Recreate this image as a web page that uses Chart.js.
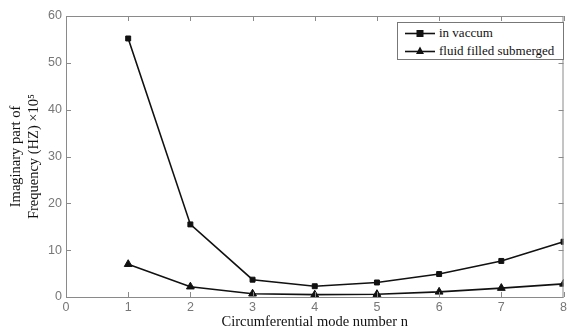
<!DOCTYPE html>
<html>
<head>
<meta charset="utf-8">
<script src="https://cdn.jsdelivr.net/npm/chart.js@4/dist/chart.umd.min.js"></script>
<style>
  html, body { margin: 0; padding: 0; background: #fff; }
  #wrap { position: relative; width: 569px; height: 331px; }
  #legend {
    position: absolute; left: 397px; top: 22px; width: 165px; height: 36px;
    border: 1px solid #777; background: #fff;
    font-family: "Liberation Serif", serif; font-size: 13px; color: #111;
  }
  #legend .row { position: absolute; left: 0; height: 18px; line-height: 18px; }
  #legend canvas { position: absolute; left: 5px; top: 1px; }
  #legend span { position: absolute; left: 41px; white-space: nowrap; }
</style>
</head>
<body>
<div id="wrap">
  <canvas id="c" width="569" height="331"></canvas>
  <div id="legend">
    <div class="row" style="top:1px"><canvas id="lg0" width="34" height="16"></canvas><span>in vaccum</span></div>
    <div class="row" style="top:19px"><canvas id="lg1" width="34" height="16"></canvas><span>fluid filled submerged</span></div>
  </div>
</div>
<script>
// mode numbers and the two curves
const modes = [1, 2, 3, 4, 5, 6, 7, 8];
const inVacuum = [55.2, 15.5, 3.7, 2.3, 3.1, 4.9, 7.7, 11.8];
const fluidFilled = [7.0, 2.2, 0.7, 0.5, 0.6, 1.1, 1.9, 2.8];
const seriesNames = ["in vaccum", "fluid filled submerged"];
const xTicks = [0, 1, 2, 3, 4, 5, 6, 7, 8];
const yTicks = [0, 10, 20, 30, 40, 50, 60];

const frameColor = "#8a8a8a";

// matlab style box with inward ticks
const boxPlugin = {
  id: "box",
  afterDraw(chart) {
    const ctx = chart.ctx;
    const a = chart.chartArea;
    const xs = chart.scales.x, ys = chart.scales.y;
    ctx.save();
    ctx.strokeStyle = frameColor;
    ctx.lineWidth = 1;
    ctx.strokeRect(a.left + 0.5, a.top + 0.5, a.right - a.left - 1, a.bottom - a.top);
    ctx.beginPath();
    xTicks.forEach(v => {
      const px = Math.round(xs.getPixelForValue(v)) + 0.5;
      ctx.moveTo(px, a.bottom); ctx.lineTo(px, a.bottom - 5);
      ctx.moveTo(px, a.top); ctx.lineTo(px, a.top + 5);
    });
    yTicks.forEach(v => {
      const py = Math.round(ys.getPixelForValue(v)) + 0.5;
      ctx.moveTo(a.left, py); ctx.lineTo(a.left + 5, py);
      ctx.moveTo(a.right, py); ctx.lineTo(a.right - 5, py);
    });
    ctx.stroke();
    ctx.restore();
  }
};

const ds = (label, vals, style, r) => ({
  label: label,
  data: modes.map((m, i) => ({ x: m, y: vals[i] })),
  borderColor: "#111",
  backgroundColor: "#111",
  borderWidth: 1.6,
  pointStyle: style,
  pointRadius: r,
  pointBorderWidth: 1,
  pointBorderColor: "#111",
  pointBackgroundColor: "#111",
  tension: 0
});

new Chart(document.getElementById("c"), {
  type: "line",
  data: {
    datasets: [
      ds(seriesNames[0], inVacuum, "rect", 3.5),
      ds(seriesNames[1], fluidFilled, "triangle", 4.5)
    ]
  },
  options: {
    responsive: false,
    animation: false,
    layout: { padding: { top: 16, right: 2, left: 0, bottom: 0 } },
    plugins: { legend: { display: false }, tooltip: { enabled: false } },
    scales: {
      x: {
        type: "linear", min: 0, max: 8,
        afterBuildTicks: s => { s.ticks = xTicks.map(v => ({ value: v })); },
        afterFit: s => { s.height = 34; s.paddingRight = 0; s.paddingLeft = 0; },
        grid: { display: false, drawTicks: false },
        border: { display: false },
        ticks: { color: "#777", padding: 3, font: { family: "Liberation Sans", size: 12.5 } },
        title: {
          display: true, text: "Circumferential mode number n", color: "#111",
          padding: { top: 0, bottom: 0 },
          font: { family: "Liberation Serif", size: 14.5 }
        }
      },
      y: {
        min: 0, max: 60,
        afterBuildTicks: s => { s.ticks = yTicks.map(v => ({ value: v })); },
        afterFit: s => { s.width = 66; },
        grid: { display: false, drawTicks: false },
        border: { display: false },
        ticks: { color: "#777", padding: 4, font: { family: "Liberation Sans", size: 12.5 } },
        title: {
          display: true, text: ["Imaginary part of", "Frequency (HZ) \u00d710\u2075"], color: "#111",
          padding: { top: 7, bottom: 0 },
          font: { family: "Liberation Serif", size: 14.5, lineHeight: 1.25 }
        }
      }
    }
  },
  plugins: [boxPlugin]
});

// little legend samples
function sample(id, style) {
  const g = document.getElementById(id).getContext("2d");
  g.strokeStyle = "#111"; g.fillStyle = "#111"; g.lineWidth = 1.6;
  g.beginPath(); g.moveTo(2, 8.5); g.lineTo(32, 8.5); g.stroke();
  g.beginPath();
  if (style === "rect") { g.fillRect(13.5, 5, 7, 7); }
  else { g.moveTo(17, 3.5); g.lineTo(21, 11); g.lineTo(13, 11); g.closePath(); g.fill(); }
}
sample("lg0", "rect");
sample("lg1", "triangle");
</script>
</body>
</html>
